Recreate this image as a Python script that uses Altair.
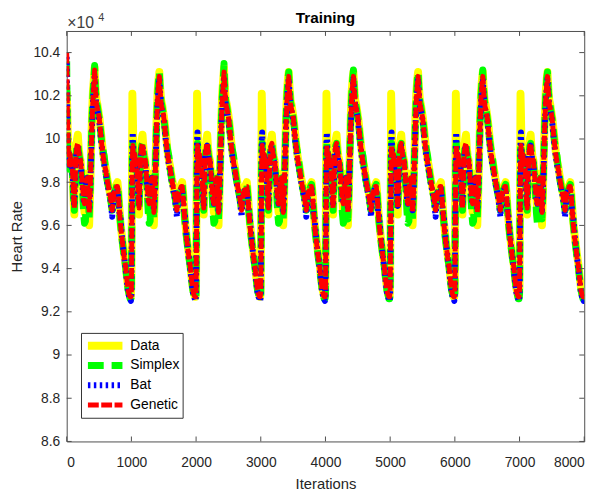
import altair as alt
import pandas as pd

SERIES = ["Data", "Simplex", "Bat", "Genetic"]
COLORS = ["#ffff00", "#00ff00", "#0000ff", "#ff0000"]
WIDTHS = [8, 5, 3.5, 3.5]
DASHES = [[1, 0], [16, 8], [2.5, 3.5], [11, 2.5]]

N_CYCLES = 8
CYCLE_LEN = 1000

# positions inside one repeating cycle (iterations)
OFFSETS = [0, 8, 15, 22, 30, 40, 52, 65, 80, 95, 108, 118, 130, 145, 160, 172,
           185, 200, 215, 230, 245, 260, 275, 290, 305, 320, 335, 347, 360, 375,
           390, 405, 420, 432, 445, 460, 475, 490, 505, 520, 540, 560, 580, 600,
           625, 650, 675, 690, 703, 715, 730, 750, 770, 785, 800, 815, 830, 850,
           870, 890, 910, 930, 950, 965, 980, 992]

# values (x10^4) read along one cycle, per series
DATA_CYCLE = [9.32, 9.80, 10.21, 10.12, 9.98, 9.92, 9.97, 9.90, 9.88, 9.84, 9.70, 9.65,
              9.82, 9.95, 10.00, 10.02, 9.96, 9.92, 9.90, 9.84, 9.80, 9.72, 9.66, 9.74,
              9.82, 9.84, 9.70, 9.60, 9.72, 9.92, 10.10, 10.22, 10.28, 10.31, 10.24, 10.18,
              10.16, 10.13, 10.10, 10.06, 10.00, 9.94, 9.90, 9.87, 9.82, 9.78, 9.74, 9.71,
              9.68, 9.70, 9.76, 9.77, 9.79, 9.80, 9.75, 9.68, 9.62, 9.56, 9.51, 9.46,
              9.42, 9.36, 9.31, 9.29, 9.27, 9.27]
SIMPLEX_CYCLE = [9.28, 9.70, 9.95, 9.98, 9.94, 9.86, 9.92, 9.86, 9.90, 9.80, 9.70, 9.67,
                 9.80, 9.93, 9.97, 9.98, 9.94, 9.91, 9.89, 9.83, 9.76, 9.66, 9.61, 9.62,
                 9.80, 9.82, 9.72, 9.63, 9.74, 9.91, 10.08, 10.20, 10.28, 10.32, 10.23, 10.17,
                 10.15, 10.12, 10.09, 10.05, 9.99, 9.95, 9.92, 9.86, 9.81, 9.77, 9.73, 9.70,
                 9.67, 9.70, 9.75, 9.76, 9.78, 9.79, 9.74, 9.67, 9.61, 9.55, 9.50, 9.45,
                 9.41, 9.35, 9.30, 9.28, 9.26, 9.26]
BAT_CYCLE = [9.28, 9.65, 10.00, 10.03, 9.95, 9.88, 9.92, 9.87, 9.89, 9.81, 9.72, 9.69,
             9.80, 9.92, 9.96, 9.97, 9.93, 9.90, 9.89, 9.83, 9.78, 9.72, 9.70, 9.76,
             9.81, 9.82, 9.74, 9.67, 9.74, 9.89, 10.05, 10.17, 10.24, 10.28, 10.21, 10.15,
             10.13, 10.11, 10.08, 10.03, 9.97, 9.92, 9.88, 9.85, 9.80, 9.76, 9.72, 9.68,
             9.64, 9.69, 9.75, 9.76, 9.77, 9.77, 9.72, 9.66, 9.64, 9.56, 9.50, 9.45,
             9.40, 9.34, 9.29, 9.27, 9.26, 9.25]
GENETIC_CYCLE = [9.30, 9.60, 9.90, 9.97, 9.93, 9.88, 9.93, 9.88, 9.90, 9.82, 9.72, 9.68,
                 9.80, 9.93, 9.97, 9.98, 9.94, 9.91, 9.90, 9.84, 9.78, 9.72, 9.70, 9.76,
                 9.81, 9.82, 9.74, 9.66, 9.74, 9.90, 10.06, 10.18, 10.25, 10.29, 10.22, 10.16,
                 10.14, 10.12, 10.09, 10.04, 9.98, 9.93, 9.89, 9.86, 9.81, 9.77, 9.73, 9.70,
                 9.67, 9.70, 9.75, 9.76, 9.78, 9.78, 9.73, 9.67, 9.61, 9.55, 9.50, 9.45,
                 9.41, 9.35, 9.30, 9.28, 9.27, 9.27]

# opening of the first cycle (offsets 0, 8, 15, 22)
DATA_START = [10.22, 10.15, 10.05, 9.98]
SIMPLEX_START = [10.36, 10.10, 9.90, 9.95]
BAT_START = [10.38, 10.18, 10.02, 9.96]
GENETIC_START = [10.40, 10.20, 10.05, 9.97]

# peak value of each cycle (offset 432)
DATA_PEAKS = [10.33, 10.31, 10.33, 10.31, 10.31, 10.31, 10.31, 10.31]
SIMPLEX_PEAKS = [10.34, 10.31, 10.35, 10.31, 10.32, 10.31, 10.32, 10.31]
BAT_PEAKS = [10.30, 10.28, 10.29, 10.28, 10.28, 10.28, 10.28, 10.28]
GENETIC_PEAKS = [10.32, 10.29, 10.31, 10.29, 10.29, 10.29, 10.29, 10.29]

END_ITER = 8000
END_VALUES = [9.29, 9.28, 9.27, 9.28]

X_TICKS = [0, 1000, 2000, 3000, 4000, 5000, 6000, 7000, 8000]
Y_TICKS = [8.6, 8.8, 9.0, 9.2, 9.4, 9.6, 9.8, 10.0, 10.2, 10.4]
EXP_BASE = ["×10"]
EXP_POW = ["4"]
TITLE = ["Training"]

cycles = [DATA_CYCLE, SIMPLEX_CYCLE, BAT_CYCLE, GENETIC_CYCLE]
starts = [DATA_START, SIMPLEX_START, BAT_START, GENETIC_START]
peaks = [DATA_PEAKS, SIMPLEX_PEAKS, BAT_PEAKS, GENETIC_PEAKS]
peak_idx = OFFSETS.index(432)

rows = []
for s, name in enumerate(SERIES):
    for k in range(N_CYCLES):
        for j, off in enumerate(OFFSETS):
            v = cycles[s][j]
            if k == 0 and j < len(starts[s]):
                v = starts[s][j]
            if j == peak_idx:
                v = peaks[s][k]
            rows.append({"series": name, "iter": k * CYCLE_LEN + off, "val": v, "ord": len(rows)})
    rows.append({"series": name, "iter": END_ITER, "val": END_VALUES[s], "ord": len(rows)})
df = pd.DataFrame(rows)

W, H = 524.5, 416
FONT = "Liberation Sans"
AX = "#4d4d4d"
TXT = "#262626"

xscale = alt.Scale(domain=[0, 8000], nice=False, zero=False)
yscale = alt.Scale(domain=[8.6, 10.5], nice=False, zero=False)

xaxis = alt.Axis(values=X_TICKS, format="d", title="Iterations",
                 ticks=False, domain=False, grid=False,
                 labelFont=FONT, labelFontSize=14, labelColor=TXT,
                 labelPadding=14, titleFont=FONT, titleFontSize=15,
                 titleFontWeight="normal", titleColor=TXT, titlePadding=8)
yaxis = alt.Axis(values=Y_TICKS, format=".1~f", title="Heart Rate",
                 ticks=False, domain=False, grid=False,
                 labelFont=FONT, labelFontSize=14, labelColor=TXT,
                 labelPadding=7, titleFont=FONT, titleFontSize=15,
                 titleFontWeight="normal", titleColor=TXT, titlePadding=9)

legend = alt.Legend(orient="none", legendX=14.5, legendY=306, title=None,
                    symbolType="stroke", symbolSize=1225, clipHeight=20,
                    labelFont=FONT, labelFontSize=14, labelColor="black",
                    strokeColor="#333333", fillColor="white", padding=3,
                    labelOffset=4, rowPadding=0, symbolOpacity=1)

def series_layer(name):
    return alt.Chart(df).transform_filter(alt.datum.series == name).mark_line(
        clip=True, strokeCap="butt", strokeJoin="round"
    ).encode(
        x=alt.X("iter:Q", scale=xscale, axis=xaxis),
        y=alt.Y("val:Q", scale=yscale, axis=yaxis),
        order="ord:Q",
        color=alt.Color("series:N", scale=alt.Scale(domain=SERIES, range=COLORS), legend=legend),
        strokeDash=alt.StrokeDash("series:N", scale=alt.Scale(domain=SERIES, range=DASHES), legend=legend),
        strokeWidth=alt.StrokeWidth("series:N", scale=alt.Scale(domain=SERIES, range=WIDTHS), legend=legend),
    )

layers = [series_layer(n) for n in SERIES]

xt = pd.DataFrame({"t": X_TICKS})
yt = pd.DataFrame({"t": Y_TICKS})
tick_bottom = alt.Chart(xt).mark_rule(color=AX, strokeWidth=1).encode(
    x=alt.X("t:Q", scale=xscale, axis=xaxis), y=alt.value(H), y2=alt.value(H - 5))
tick_top = alt.Chart(xt).mark_rule(color=AX, strokeWidth=1).encode(
    x=alt.X("t:Q", scale=xscale, axis=xaxis), y=alt.value(0), y2=alt.value(5))
tick_left = alt.Chart(yt).mark_rule(color=AX, strokeWidth=1).encode(
    y=alt.Y("t:Q", scale=yscale, axis=yaxis), x=alt.value(0), x2=alt.value(5))
tick_right = alt.Chart(yt).mark_rule(color=AX, strokeWidth=1).encode(
    y=alt.Y("t:Q", scale=yscale, axis=yaxis), x=alt.value(W - 5), x2=alt.value(W))

exp_base = alt.Chart(pd.DataFrame({"t": EXP_BASE})).mark_text(
    align="left", baseline="alphabetic", font=FONT, fontSize=16, color="#404040"
).encode(text="t:N", x=alt.value(0.5), y=alt.value(-3))
exp_pow = alt.Chart(pd.DataFrame({"t": EXP_POW})).mark_text(
    align="left", baseline="alphabetic", font=FONT, fontSize=11, color="#404040"
).encode(text="t:N", x=alt.value(32), y=alt.value(-10.5))
title = alt.Chart(pd.DataFrame({"t": TITLE})).mark_text(
    align="center", baseline="alphabetic", font=FONT, fontSize=15.5,
    fontWeight="bold", color="black"
).encode(text="t:N", x=alt.value(W / 2), y=alt.value(-8))

chart = alt.layer(*layers, tick_bottom, tick_top, tick_left, tick_right,
                  exp_base, exp_pow, title).properties(
    width=W, height=H,
    padding={"left": 59.5, "top": 20, "right": 17, "bottom": 52},
    autosize=alt.AutoSizeParams(type="none"),
    background="white",
).configure_view(stroke=AX, strokeWidth=1)

chart.save("out.html", embed_options={"renderer": "svg", "actions": False})
